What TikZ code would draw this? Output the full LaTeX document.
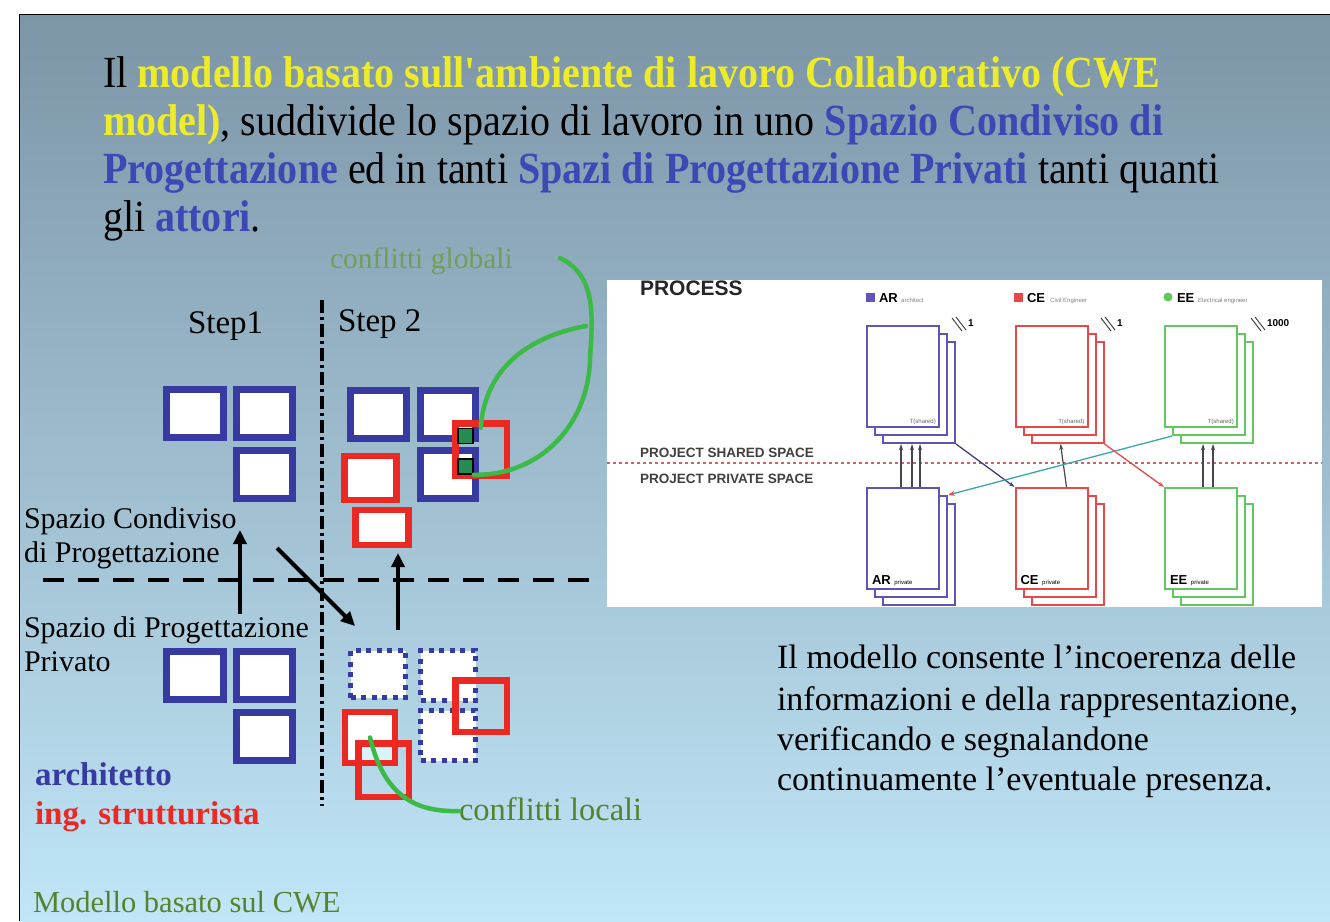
\documentclass[tikz,border=0pt]{standalone}
\usepackage{fontspec}
\setmainfont{Liberation Serif}
\newfontfamily\sansf{Liberation Sans}
\newfontfamily\ttlserif[FakeStretch=0.9]{Liberation Serif}
\usetikzlibrary{arrows.meta,calc}
\definecolor{bgtop}{RGB}{124,149,167}
\definecolor{bgbot}{RGB}{192,230,247}
\definecolor{ttlyellow}{RGB}{236,236,40}
\definecolor{ttlblue}{RGB}{62,72,180}
\definecolor{sqblue}{RGB}{55,58,160}
\definecolor{sqred}{RGB}{236,40,35}
\definecolor{cgreen}{RGB}{60,185,70}
\definecolor{gsqfill}{RGB}{35,140,80}
\definecolor{lblgreen}{RGB}{85,130,45}
\definecolor{glbgreen}{RGB}{110,160,90}
\definecolor{arcol}{RGB}{95,85,185}
\definecolor{cecol}{RGB}{232,72,72}
\definecolor{eecol}{RGB}{95,200,95}
\definecolor{sepred}{RGB}{205,100,100}
\definecolor{plgray}{RGB}{70,70,80}
\definecolor{tealc}{RGB}{60,165,170}
\newcommand\fs[1]{\fontsize{#1}{#1}\selectfont}
\tikzset{
  lbl/.style={anchor=base west, inner sep=0, outer sep=0},
  bsq/.style={draw=sqblue, line width=7pt, fill=white, inner sep=0},
  rsq/.style={draw=sqred, line width=6.5pt, inner sep=0},
  rsqf/.style={rsq, fill=white},
  dsq/.style={draw=sqblue, line width=5pt, dash pattern=on 5pt off 5.5pt, fill=white, inner sep=0},
  gsq/.style={draw=black, line width=1.5pt, fill=gsqfill, inner sep=0, minimum size=15pt},
  gline/.style={draw=cgreen, line width=4.5pt, line cap=round},
  barrow/.style={line width=4pt, -{Triangle[length=14pt,width=13pt]}},
  doc/.style={draw=#1, line width=2pt, fill=white, minimum width=72pt, minimum height=101pt, inner sep=0},
  pline/.style={draw=plgray, line width=1.2pt},
  ptip/.style={-{Stealth[length=6pt,width=4pt]}},
  tiny/.style={inner sep=0, font=\sansf\fs{6}, text=gray},
}
\newcommand\docstack[4]{%
  \node[doc=#4] (#1c) at (#2+16,#3+16) {};
  \node[doc=#4] (#1b) at (#2+8,#3+8) {};
  \node[doc=#4] (#1) at (#2,#3) {};
}
\begin{document}
\begin{tikzpicture}[x=1pt,y=-1pt]
\useasboundingbox (0,0) rectangle (1330,921);
\fill[white] (0,0) rectangle (1330,921);
\shade[top color=bgtop, bottom color=bgbot] (20,15) rectangle (1330,921);
\draw[line width=1.6pt] (19.5,921) -- (19.5,14.5) -- (1330,14.5);

% ---------- title ----------
\begin{scope}[every node/.style={lbl, font=\ttlserif\fs{44.5}}]
\node (t1) at (103,87) {Il \textbf{\color{ttlyellow}modello basato sull'ambiente di lavoro Collaborativo (CWE}};
\node (t2) at (103,135) {\textbf{\color{ttlyellow}model)}, suddivide lo spazio di lavoro in uno \textbf{\color{ttlblue}Spazio Condiviso di}};
\node (t3) at (103,183) {\textbf{\color{ttlblue}Progettazione} ed in tanti \textbf{\color{ttlblue}Spazi di Progettazione Privati} tanti quanti};
\node (t4) at (103,231) {gli \textbf{\color{ttlblue}attori}.};
\end{scope}

% ---------- left diagram ----------
\coordinate (vtop) at (322,300);
\coordinate (vbot) at (322,806);
\draw[line width=3.5pt, dash pattern=on 13pt off 4pt on 3pt off 4pt] (vtop) -- (vbot);
\coordinate (hl) at (43,580);
\coordinate (hr) at (597,580);
\draw[line width=4.5pt, dash pattern=on 21pt off 14pt] (hl) -- (hr);

\node[lbl, font=\fs{33}] (st1) at (188,333) {Step1};
\node[lbl, font=\fs{33}] (st2) at (338,331) {Step 2};
\node[lbl, font=\fs{29.5}, text=glbgreen] (cglob) at (330,268) {conflitti globali};

% step 1 shared
\node[bsq, minimum width=57pt, minimum height=48pt] (s1a) at (195,413.5) {};
\node[bsq, minimum width=56pt, minimum height=48pt] (s1b) at (264.5,413.5) {};
\node[bsq, minimum width=56pt, minimum height=48pt] (s1c) at (264.5,474.5) {};
% step 1 private
\node[bsq, minimum width=57pt, minimum height=48pt] (p1a) at (195,675.5) {};
\node[bsq, minimum width=56pt, minimum height=48pt] (p1b) at (264.5,675.5) {};
\node[bsq, minimum width=56pt, minimum height=48pt] (p1c) at (264.5,736.5) {};
% step 2 shared
\node[bsq, minimum width=56pt, minimum height=48pt] (s2a) at (378.5,414.5) {};
\node[bsq, minimum width=55pt, minimum height=48pt] (s2b) at (448,414.5) {};
\node[bsq, minimum width=55pt, minimum height=48pt] (s2c) at (448,474.5) {};
\node[rsqf, minimum width=52pt, minimum height=44pt] (r2b) at (370.5,478) {};
\node[rsqf, minimum width=53pt, minimum height=35pt] (r2c) at (382,527.5) {};
\node[rsq, minimum width=51.5pt, minimum height=52.5pt] (r2a) at (481,449.5) {};
\node[gsq] (q1) at (465.5,436) {};
\node[gsq] (q2) at (465.5,466.5) {};
% step 2 private
\node[dsq, minimum width=55pt, minimum height=47pt] (d2a) at (378,674) {};
\node[dsq, minimum width=55pt, minimum height=50pt] (d2b) at (448,675.5) {};
\node[dsq, minimum width=55pt, minimum height=50pt] (d2c) at (448,735.5) {};
\node[rsq, minimum width=51.5pt, minimum height=51.5pt] (r3a) at (481,706) {};
\node[rsqf, minimum width=50pt, minimum height=51pt] (r3b) at (370,737.5) {};
\fill[cyan!15] (362,746) rectangle (392,760);
\node[rsq, minimum width=50.5pt, minimum height=53.5pt] (r3c) at (383.5,770) {};

% arrows
\coordinate (a1s) at (240,614);
\coordinate (a1e) at (240,530);
\draw[barrow] (a1s) -- (a1e);
\coordinate (a2s) at (277,548);
\coordinate (a2e) at (355,626);
\draw[barrow] (a2s) -- (a2e);
\coordinate (a3s) at (398,630);
\coordinate (a3e) at (398,553);
\draw[barrow] (a3s) -- (a3e);

% green conflict curves
\coordinate (gstart) at (560,258);
\coordinate (gbranch) at (586,326);
\draw[gline] (gstart) .. controls (598,276) and (592,320) .. (590,360)
   .. controls (588,425) and (540,476) .. (q2.south east);
\draw[gline] (gbranch) .. controls (548,333) and (486,355) .. ([xshift=7pt]q1.north east);
\node[lbl, font=\fs{32.5}, text=lblgreen] (cloc) at (459,820) {conflitti locali};
\draw[gline] (r3b.center) .. controls (385,800) and (420,812) .. ([yshift=9pt]cloc.base west);

% left labels
\begin{scope}[every node/.style={lbl, font=\fs{30}}]
\node (l1) at (24,528) {Spazio Condiviso};
\node (l2) at (24,562) {di Progettazione};
\node (l3) at (24,637) {Spazio di Progettazione};
\node (l4) at (24,671) {Privato};
\end{scope}
\node[lbl, font=\fs{33}\bfseries, text=sqblue] (arch) at (35,785) {architetto};
\node[lbl, font=\fs{33}\bfseries, text=sqred] (ing) at (35,824) {ing. strutturista};
\node[lbl, font=\fs{30.5}, text=lblgreen] (foot) at (33,912) {Modello basato sul CWE};

% ---------- right panel ----------
\node[fill=white, minimum width=715pt, minimum height=327pt, inner sep=0, anchor=north west] (proc) at (607,280) {};
\node[lbl, font=\sansf\bfseries\fs{21}, text=black!85] (ptitle) at (640,295) {PROCESS};
\draw[sepred, line width=1.6pt, dash pattern=on 3pt off 3pt] (proc.west |- 0,463) coordinate (sepl) -- (proc.east |- 0,463) coordinate (sepr);
\node[lbl, font=\sansf\bfseries\fs{13.5}, text=black!75] (pss) at (640,457) {PROJECT SHARED SPACE};
\node[lbl, font=\sansf\bfseries\fs{13.5}, text=black!75] (pps) at (640,483) {PROJECT PRIVATE SPACE};

\docstack{ARt}{903}{376.5}{arcol}
\docstack{CEt}{1051.5}{376.5}{cecol}
\docstack{EEt}{1201}{376.5}{eecol}
\docstack{ARb}{903}{538.5}{arcol}
\docstack{CEb}{1051.5}{538.5}{cecol}
\docstack{EEb}{1201}{538.5}{eecol}

% legend
\node[fill=arcol, minimum size=9pt, inner sep=0] (lgar) at (870,297) {};
\node[lbl, font=\sansf\bfseries\fs{13}] (lgart) at (879,302) {AR};
\node[tiny, anchor=base west] (lgars) at (901,302) {architect};
\node[fill=cecol, minimum size=9pt, inner sep=0] (lgce) at (1018,297) {};
\node[lbl, font=\sansf\bfseries\fs{13}] (lgcet) at (1027,302) {CE};
\node[tiny, anchor=base west] (lgces) at (1050,302) {Civil Engineer};
\node[circle, fill=eecol, minimum size=9pt, inner sep=0] (lgee) at (1168,297) {};
\node[lbl, font=\sansf\bfseries\fs{13}] (lgeet) at (1177,302) {EE};
\node[tiny, anchor=base west] (lgees) at (1198,302) {Electrical engineer};

% version marks
\foreach \nm/\xx/\tt in {mar/952/1, mce/1101/1, mee/1251/1000}{
  \draw[plgray, line width=1pt] (\xx,318) -- (\xx+10,331) (\xx+4,317) -- (\xx+14,330);
  \node[lbl, font=\sansf\bfseries\fs{10}] (\nm) at (\xx+16,326) {\tt};
}
% small captions in the stacks
\foreach \nd in {ARt,CEt,EEt}{
  \node[tiny, anchor=base east, text=black!60] at ([xshift=-4pt,yshift=5pt]\nd.south east) {T(shared)};
}
\node[lbl, font=\sansf\bfseries\fs{13}] (arb) at ([xshift=6pt,yshift=6pt]ARb.south west) {AR \fs{6}\mdseries private};
\node[lbl, font=\sansf\bfseries\fs{13}] (ceb) at ([xshift=6pt,yshift=6pt]CEb.south west) {CE \fs{6}\mdseries private};
\node[lbl, font=\sansf\bfseries\fs{13}] (eeb) at ([xshift=6pt,yshift=6pt]EEb.south west) {EE \fs{6}\mdseries private};

% panel connectors
\draw[pline, ptip] ([xshift=-2pt]ARb.north) -- ([xshift=-2pt]ARb.north |- ARtc.south);
\draw[pline, ptip] ([xshift=9pt]ARb.north) -- ([xshift=9pt]ARb.north |- ARtc.south);
\draw[pline, ptip] ([xshift=17pt]ARb.north) -- ([xshift=17pt]ARb.north |- ARtc.south);
\draw[pline, ptip] ([xshift=15pt]CEb.north) -- ([xshift=-7pt]CEtc.south);
\draw[pline, ptip] ([xshift=2pt]EEb.north) -- ([xshift=2pt]EEb.north |- EEtc.south);
\draw[pline, ptip] ([xshift=12pt]EEb.north) -- ([xshift=12pt]EEb.north |- EEtc.south);
\draw[draw=arcol!70!black, line width=1.3pt, ptip] (ARtc.south east) -- (CEb.north west);
\draw[draw=tealc, line width=1.3pt, -{Stealth[length=7pt,width=5pt,color=cecol]}] (EEtb.south west) -- (ARbb.north east);
\draw[draw=cecol, line width=1.3pt, ptip] (CEtc.south east) -- (EEb.north west);

% note text
\begin{scope}[every node/.style={lbl, font=\fs{34}}]
\node (n1) at (777,668) {Il modello consente l'incoerenza delle};
\node (n2) at (777,710) {informazioni e della rappresentazione,};
\node (n3) at (777,750) {verificando e segnalandone};
\node (n4) at (777,790) {continuamente l'eventuale presenza.};
\end{scope}
\end{tikzpicture}
\end{document}
